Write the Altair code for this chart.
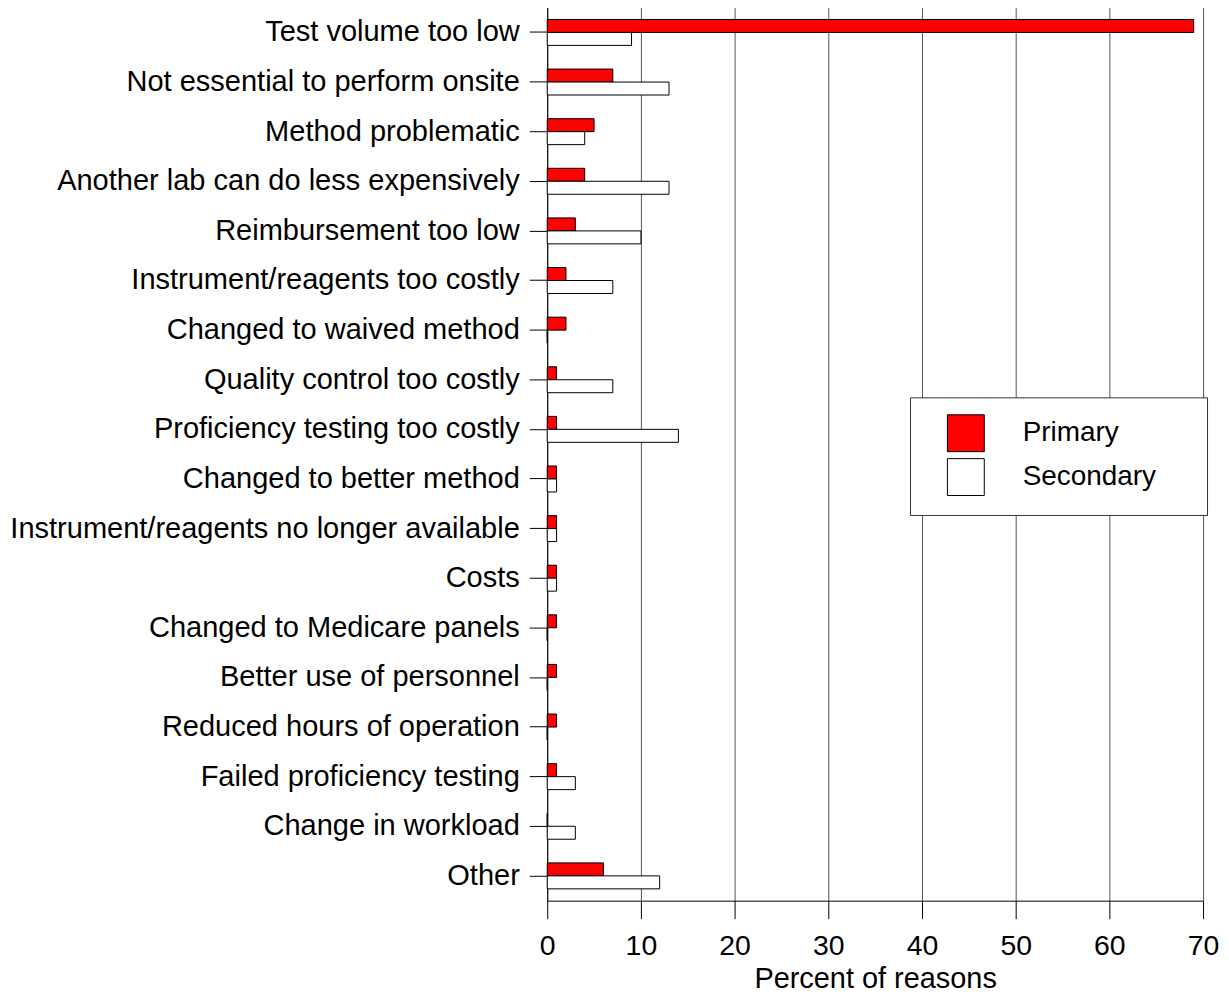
import altair as alt
import pandas as pd

categories = [
    "Test volume too low",
    "Not essential to perform onsite",
    "Method problematic",
    "Another lab can do less expensively",
    "Reimbursement too low",
    "Instrument/reagents too costly",
    "Changed to waived method",
    "Quality control too costly",
    "Proficiency testing too costly",
    "Changed to better method",
    "Instrument/reagents no longer available",
    "Costs",
    "Changed to Medicare panels",
    "Better use of personnel",
    "Reduced hours of operation",
    "Failed proficiency testing",
    "Change in workload",
    "Other",
]
primary = [69, 7, 5, 4, 3, 2, 2, 1, 1, 1, 1, 1, 1, 1, 1, 1, 0, 6]
secondary = [9, 13, 4, 13, 10, 7, 0, 7, 14, 1, 1, 1, 0, 0, 0, 3, 3, 12]
series = ["Primary", "Secondary"]
colors = ["#FF0000", "#FFFFFF"]
x_ticks = [0, 10, 20, 30, 40, 50, 60, 70]

rows = []
for c, p, s in zip(categories, primary, secondary):
    rows.append({"reason": c, "series": "Primary", "value": p})
    rows.append({"reason": c, "series": "Secondary", "value": s})
df = pd.DataFrame(rows)

FONT = "Liberation Sans, Arial, sans-serif"

chart = alt.Chart(df).mark_bar(stroke="black", strokeWidth=1).encode(
    x=alt.X(
        "value:Q",
        scale=alt.Scale(domain=[0, 70], nice=False),
        axis=alt.Axis(
            values=x_ticks,
            title="Percent of reasons",
            grid=True,
            gridColor="#555555",
            gridWidth=1,
            tickSize=18,
            tickColor="black",
            domainColor="black",
            labelFontSize=28.5,
            labelPadding=13,
            labelFlush=False,
            titleFontSize=29,
            titleFontWeight="normal",
            titlePadding=5,
            labelFont=FONT,
            titleFont=FONT,
            labelColor="black",
            titleColor="black",
        ),
    ),
    y=alt.Y(
        "reason:N",
        sort=categories,
        scale=alt.Scale(paddingInner=0.477, paddingOuter=0.2385),
        axis=alt.Axis(
            title=None,
            tickSize=18,
            tickColor="black",
            domainColor="black",
            labelFontSize=29.1,
            labelPadding=10,
            labelLimit=1000,
            labelFont=FONT,
            labelColor="black",
        ),
    ),
    yOffset=alt.YOffset("series:N", sort=series, scale=alt.Scale(paddingInner=0, paddingOuter=0)),
    fill=alt.Fill(
        "series:N",
        sort=series,
        scale=alt.Scale(domain=series, range=colors),
        legend=alt.Legend(
            title="MMMM",
            titleOrient="right",
            titleFontSize=10,
            titleOpacity=0,
            titlePadding=0,
            orient="none",
            legendX=364,
            legendY=391,
            symbolType="square",
            symbolSize=1369,
            symbolStrokeColor="black",
            symbolStrokeWidth=1,
            symbolOffset=20,
            labelFontSize=28,
            labelFont=FONT,
            labelColor="black",
            labelOffset=38,
            labelLimit=400,
            padding=17,
            rowPadding=2,
            strokeColor="#333333",
            fillColor="white",
        ),
    ),
).properties(
    width=658,
    height=896,
    autosize=alt.AutoSizeParams(type="none"),
    padding={"left": 541, "top": -2, "right": 18, "bottom": 94},
).configure_view(stroke=None)

chart.save("out.html", embed_options={"renderer": "svg", "actions": False})
